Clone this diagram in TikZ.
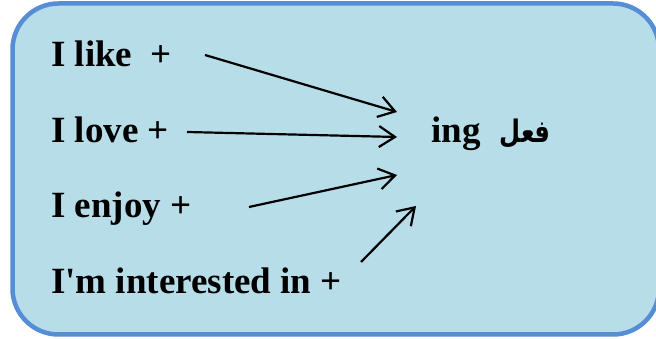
\documentclass[tikz,border=0pt]{standalone}
\usepackage{graphicx}
\usepackage{fontspec}
\setmainfont{Liberation Serif}
\newfontfamily\arabicfont[Script=Arabic]{DejaVu Sans}
\TeXXeTstate=1
\usetikzlibrary{arrows.meta}
\definecolor{boxfill}{HTML}{B7DDE8}
\definecolor{boxline}{HTML}{558ED5}
\tikzset{
  phrase/.style={anchor=base west, inner sep=0pt, font=\fontsize{37}{44}\selectfont\bfseries},
  link/.style={line width=2.2pt, -{Straight Barb[length=16pt,width=21pt,line width=2.2pt]}},
  frame/.style={fill=boxfill, draw=boxline, line width=4.5pt, rounded corners=46pt}
}
\begin{document}
\begin{tikzpicture}[x=1pt,y=1pt]
\useasboundingbox (0,0) rectangle (656,339);
\begin{scope}
\clip (0,0) rectangle (656,339);
\draw[frame] (12.5,4.5) rectangle (659,335.5);
\end{scope}
\node[phrase] (like) at (51,272) {I like~ +};
\node[phrase] (love) at (51,196) {I love +};
\node[phrase] (enjoy) at (51,121) {I enjoy +};
\node[phrase] (interested) at (51,45) {I\textquotesingle m interested in +};
\node[phrase] (target) at (431,196) {ing\hspace{19pt}\scalebox{0.78}[1]{\fontsize{31}{36}\arabicfont\bfseries\beginR فعل\endR}};
\coordinate (s1) at (205,284);
\coordinate (e1) at (397,227);
\coordinate (s2) at (187,207);
\coordinate (e2) at (397,202);
\coordinate (s3) at (249,132);
\coordinate (e3) at (397,164);
\coordinate (s4) at (361,77);
\coordinate (e4) at (416,133);
\draw[link] (s1) -- (e1);
\draw[link] (s2) -- (e2);
\draw[link] (s3) -- (e3);
\draw[link] (s4) -- (e4);
\end{tikzpicture}
\end{document}
